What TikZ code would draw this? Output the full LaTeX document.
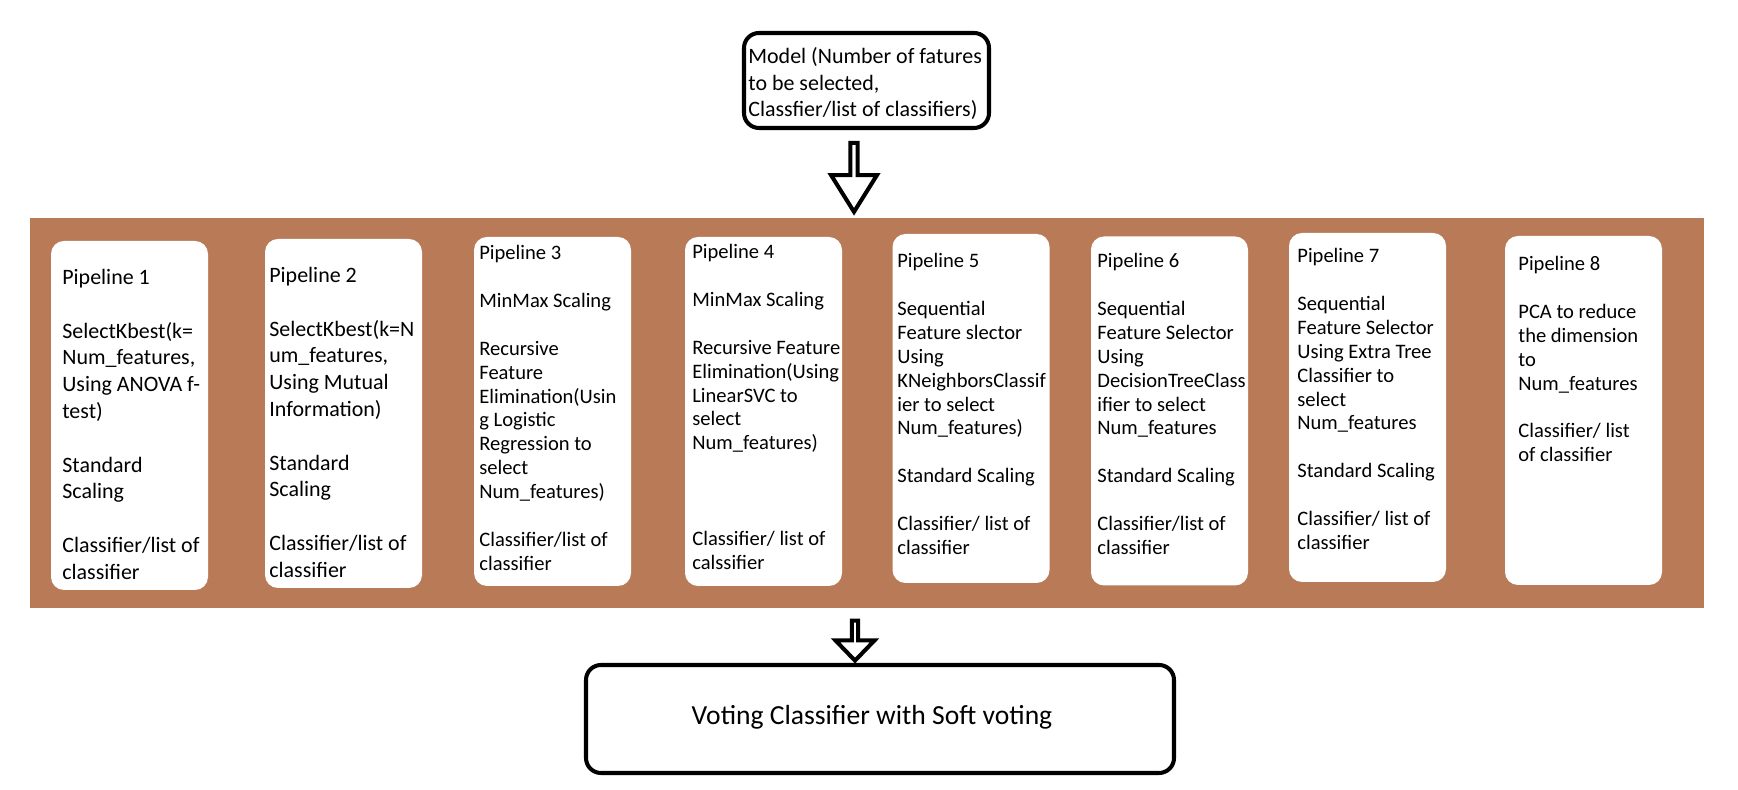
\documentclass[tikz,border=0pt]{standalone}
\usepackage{fontspec}
\setmainfont{Carlito}
\usetikzlibrary{arrows.meta,positioning,calc,shapes.arrows}
\definecolor{bandbrown}{RGB}{185,122,87}
\begin{document}
\begin{tikzpicture}[>=Stealth]
\tikzstyle{p}=[fill=white,rounded corners=0.26cm,minimum width=3.14cm,minimum height=6.98cm]
\tikzstyle{t}=[anchor=north west,inner sep=0pt,align=left,font=\fontsize{11.7pt}{13.6pt}\selectfont]
\tikzstyle{tl}=[t,font=\fontsize{12.5pt}{15.25pt}\selectfont]
\tikzstyle{blk}=[draw,line width=2.3pt,rounded corners=0.3cm]
\tikzstyle{arr}=[draw,line width=2.3pt,single arrow,shape border rotate=270,inner sep=0pt]
\useasboundingbox (0,0) rectangle (34.76,15.8);
% input model and arrow into the band
\node[blk,minimum width=4.9cm,minimum height=1.9cm] (m) at (17.33,14.19) {};
\node[tl] (mt) at (14.96,14.86) {Model (Number of fatures\\ to be selected,\\ Classfier/list of classifiers)};
\node[arr,minimum height=1.38cm,minimum width=0.92cm,single arrow head extend=0.22cm,single arrow tip angle=64] (a1) at (17.08,12.31) {};
% band holding the eight pipelines
\node[fill=bandbrown,minimum width=33.48cm,minimum height=7.8cm] (band) at (17.34,7.54) {};
\node[p] (p1) at (2.59,7.49) {};
\node[p] (p2) at (6.87,7.53) {};
\node[p] (p3) at (11.05,7.57) {};
\node[p] (p4) at (15.27,7.57) {};
\node[p] (p5) at (19.42,7.63) {};
\node[p] (p6) at (23.39,7.58) {};
\node[p] (p7) at (27.35,7.65) {};
\node[p] (p8) at (31.67,7.59) {};
\node[tl] (t1) at (1.24,10.42) {Pipeline 1\\ \\ SelectKbest(k=\\ Num\_features,\\ Using ANOVA f-\\ test)\\ \\ Standard\\ Scaling\\ \\ Classifier/list of\\ classifier};
\node[tl] (t2) at (5.38,10.46) {Pipeline 2\\ \\ SelectKbest(k=N\\ um\_features,\\ Using Mutual\\ Information)\\ \\ Standard\\ Scaling\\ \\ Classifier/list of\\ classifier};
\node[t] (t3) at (9.58,10.90) {Pipeline 3\\ \\ MinMax Scaling\\ \\ Recursive\\ Feature\\ Elimination(Usin\\ g Logistic\\ Regression to\\ select\\ Num\_features)\\ \\ Classifier/list of\\ classifier};
\node[t] (t4) at (13.84,10.92) {Pipeline 4\\ \\ MinMax Scaling\\ \\ Recursive Feature\\ Elimination(Using\\ LinearSVC to\\ select\\ Num\_features)\\ \\ \\ \\ Classifier/ list of\\ calssifier};
\node[t] (t5) at (17.94,10.74) {Pipeline 5\\ \\ Sequential\\ Feature slector\\ Using\\ KNeighborsClassif\\ ier to select\\ Num\_features)\\ \\ Standard Scaling\\ \\ Classifier/ list of\\ classifier};
\node[t] (t6) at (21.94,10.74) {Pipeline 6\\ \\ Sequential\\ Feature Selector\\ Using\\ DecisionTreeClass\\ ifier to select\\ Num\_features\\ \\ Standard Scaling\\ \\ Classifier/list of\\ classifier};
\node[t] (t7) at (25.94,10.84) {Pipeline 7\\ \\ Sequential\\ Feature Selector\\ Using Extra Tree\\ Classifier to\\ select\\ Num\_features\\ \\ Standard Scaling\\ \\ Classifier/ list of\\ classifier};
\node[t] (t8) at (30.36,10.68) {Pipeline 8\\ \\ PCA to reduce\\ the dimension\\ to\\ Num\_features\\ \\ Classifier/ list\\ of classifier};
% arrow into the voting classifier
\node[arr,minimum height=0.8cm,minimum width=0.78cm,single arrow head extend=0.21cm,single arrow tip angle=88] (a2) at (17.1,3.02) {};
\node[blk,minimum width=11.76cm,minimum height=2.16cm] (v) at (17.6,1.42) {};
\node[font=\fontsize{15.7pt}{19pt}\selectfont] (vt) at (17.44,1.45) {Voting Classifier with Soft voting};
\end{tikzpicture}
\end{document}
